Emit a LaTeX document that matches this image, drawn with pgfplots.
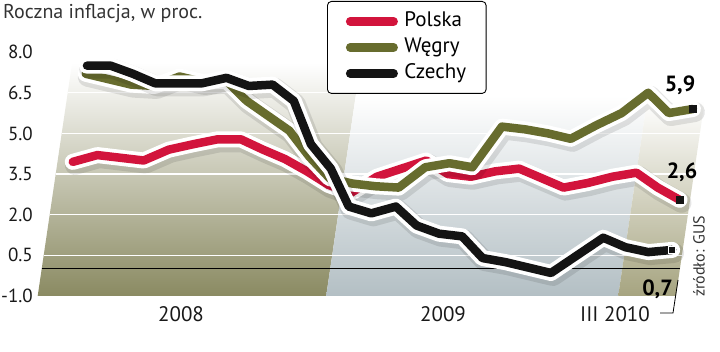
\documentclass[border=0pt]{standalone}
\usepackage{fontspec}
\setmainfont{PT Sans}
\usepackage{pgfplots}
\usepackage{pgfplotstable}
\pgfplotsset{compat=1.18}
\definecolor{pl}{HTML}{D2143C}
\definecolor{hu}{HTML}{676C2E}
\definecolor{cz}{HTML}{141414}
\definecolor{bgA}{HTML}{8A8A62}
\definecolor{bgB}{HTML}{B3BFC4}
\definecolor{bgC}{HTML}{A6A480}

% monthly values, I 2008 (i=0) ... III 2010 (i=26)
\pgfplotstableread{
i  pl    hu    cz
0  3.95  7.20  7.50
1  4.20  7.00  7.50
2  4.10  6.80  7.20
3  4.00  6.75  6.85
4  4.40  7.10  6.85
5  4.60  6.90  6.85
6  4.78  6.95  7.05
7  4.78  6.20  6.75
8  4.40  5.65  6.80
9  4.05  5.10  6.20
10 3.60  4.15  4.60
11 3.10  3.35  3.70
12 2.80  3.15  2.30
13 3.40  3.05  2.05
14 3.70  3.00  2.30
15 4.00  3.75  1.60
16 3.50  3.90  1.30
17 3.40  3.75  1.20
18 3.60  5.25  0.40
19 3.70  5.15  0.25
20 3.35  5.00  0.05
21 3.00  4.80  -0.15
22 3.17  5.30  0.50
23 3.40  5.75  1.15
24 3.55  6.50  0.80
25 3.00  5.75  0.62
26 2.55  5.90  0.70
}\data

\newcommand{\series}[2]{%
  \addplot[black, opacity=0.10, line width=20pt, line join=round, line cap=round, xshift=2pt, yshift=-3pt, forget plot] table[x=i,y=#1]{\data};
  \addplot[white, line width=16pt, line join=round, line cap=round, forget plot] table[x=i,y=#1]{\data};
  \addplot[#2, line width=8.5pt, line join=round, line cap=round, forget plot] table[x=i,y=#1]{\data};
}

\begin{document}
\begin{tikzpicture}
\useasboundingbox (0,0) rectangle (720pt,351pt);
\begin{axis}[
  x={(23.55pt,0pt)}, y={(4pt,27.1pt)},
  xmin=-0.65, xmax=26.45, ymin=-1, ymax=8,
  hide axis, clip=false,
  anchor=origin, at={(57pt,82.1pt)},
]
% year backgrounds
\addplot[draw=none, bottom color=bgA, top color=white, forget plot] coordinates {(-0.65,-1) (11.6,-1) (11.6,7.6) (-0.65,7.6)} -- cycle;
\addplot[draw=none, bottom color=bgB, top color=white, forget plot] coordinates {(11.6,-1) (24.0,-1) (24.0,6.4) (11.6,6.4)} -- cycle;
\addplot[draw=none, bottom color=bgC, top color=white, forget plot] coordinates {(24.0,-1) (26.45,-1) (26.45,6.2) (24.0,6.2)} -- cycle;
% grid
\addplot[white, line width=1.3pt, forget plot] coordinates {(-0.65,0.5) (26.45,0.5)};
\addplot[white, line width=1.3pt, forget plot] coordinates {(-0.65,2) (26.45,2)};
\addplot[white, line width=1.3pt, forget plot] coordinates {(-0.65,3.5) (26.45,3.5)};
\addplot[white, line width=1.3pt, forget plot] coordinates {(-0.65,5) (26.45,5)};
\addplot[white, line width=1.3pt, forget plot] coordinates {(-0.65,6.5) (26.45,6.5)};
\addplot[black, line width=1.1pt, forget plot] coordinates {(-0.65,0) (26.45,0)};
% series
\series{pl}{pl}
\series{hu}{hu}
\series{cz}{cz}
\addplot[only marks, mark=square*, mark size=3.6pt, cz, forget plot, skip coords between index={0}{26}] table[x=i,y=pl]{\data};
\addplot[only marks, mark=square*, mark size=3.6pt, cz, forget plot, skip coords between index={0}{26}] table[x=i,y=hu]{\data};
\addplot[only marks, mark=square*, mark size=3.6pt, cz, forget plot, skip coords between index={0}{26}, mark options={draw=white, line width=0pt}] table[x=i,y=cz]{\data};
\end{axis}

\begin{axis}[
  x={(1pt,0pt)}, y={(0pt,27.1pt)},
  xmin=0, xmax=720, ymin=-1, ymax=8,
  anchor=origin, at={(0pt,82.1pt)},
  clip=false,
  axis line style={draw=none}, tick style={draw=none},
  ytick={-1,0.5,2,3.5,5,6.5,8},
  y tick label style={/pgf/number format/fixed, /pgf/number format/fixed zerofill, /pgf/number format/precision=1, /pgf/number format/assume math mode=true, anchor=east, inner sep=0pt, xshift=33pt, font=\fontsize{19}{22}\selectfont, text=black!90},
  xtick={181,443,615}, xticklabels={2008,2009,III 2010},
  x tick label style={anchor=base, inner sep=0pt, yshift=-25pt, font=\fontsize{21}{24}\selectfont, text=black!90},
  legend image code/.code={\path (0pt,0pt) -- (52pt,0pt); \draw[#1, line width=8.5pt, line cap=round] (4.25pt,0pt) -- (47.75pt,0pt);},
  legend cell align=left,
  legend style={at={(0.4542,1.2096)}, anchor=north west, draw=black, line width=0.9pt, rounded corners=4pt, fill=white, inner xsep=18pt, inner ysep=8pt, font=\fontsize{21}{24}\selectfont, nodes={inner sep=2pt, text height=15pt, text depth=5pt}, row sep=2pt, /tikz/column sep=4pt},
]
\addlegendimage{pl}
\addlegendentry{Polska}
\addlegendimage{hu}
\addlegendentry{Węgry}
\addlegendimage{cz}
\addlegendentry{Czechy}
\node[anchor=base west, inner sep=0pt, font=\fontsize{20}{24}\selectfont, text=black!80] at (axis cs:3,9.258) {Roczna inflacja, w proc.};
\node[inner sep=0pt, font=\bfseries\fontsize{22}{24}\selectfont] at (axis cs:680,6.786) {5,9};
\node[inner sep=0pt, font=\bfseries\fontsize{22}{24}\selectfont] at (axis cs:682,3.557) {2,6};
\node[inner sep=0pt, font=\bfseries\fontsize{22}{24}\selectfont] at (axis cs:657.5,-0.742) {0,7};
\node[rotate=90, inner sep=0pt, font=\fontsize{16}{18}\selectfont, text=black!80] at (axis cs:699,0.46) {źródło: GUS};
\draw[line width=0.8pt] (axis cs:678,-0.41) -- (axis cs:673,-1.627) -- (axis cs:660,-1.627);
\end{axis}
\end{tikzpicture}
\end{document}
